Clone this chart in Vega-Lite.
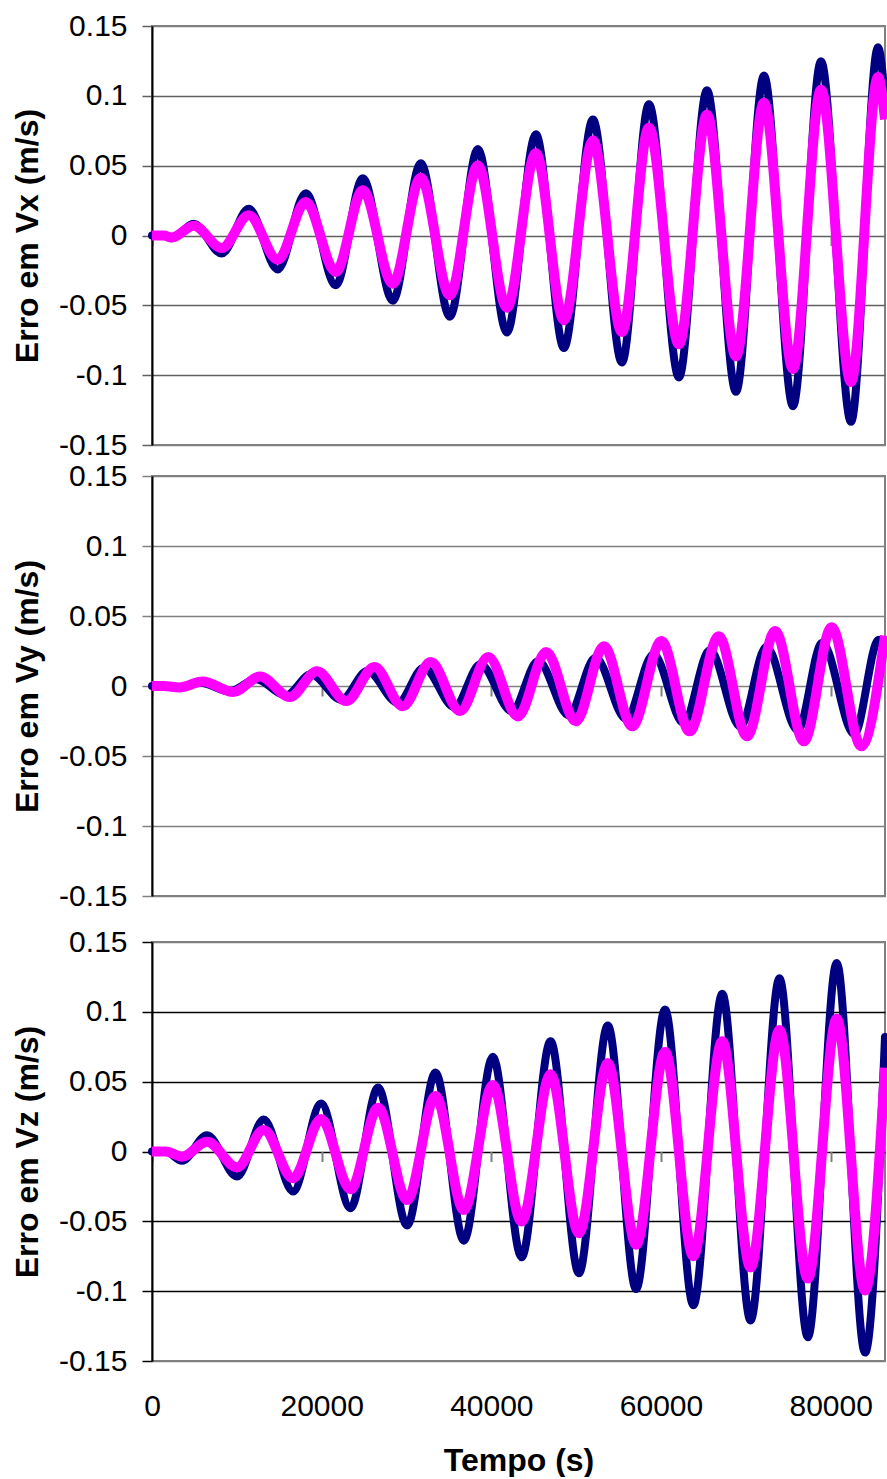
{
  "$schema": "https://vega.github.io/schema/vega-lite/v6.json",
  "padding": {"left": 10, "top": 10, "right": 0, "bottom": 0},
  "background": "white",
  "config": {
    "font": "Liberation Sans",
    "view": {"stroke": "#808080", "strokeWidth": 2},
    "axis": {
      "labelFont": "Liberation Sans",
      "labelFontSize": 30,
      "labelColor": "#000000",
      "titleFont": "Liberation Sans",
      "titleFontSize": 32,
      "titleFontWeight": "bold",
      "titleColor": "#000000",
      "labelFlush": false
    }
  },
  "datasets": {
    "vx": [
      {"t": 0, "e": 0, "serie": "1"}, {"t": 1400, "e": 0, "serie": "1"}, {"t": 2335, "e": -0.002, "serie": "1"},
      {"t": 4917, "e": 0.0084, "serie": "1"}, {"t": 8219, "e": -0.0129, "serie": "1"}, {"t": 11403, "e": 0.0191, "serie": "1"},
      {"t": 14823, "e": -0.0243, "serie": "1"}, {"t": 18125, "e": 0.0303, "serie": "1"}, {"t": 21663, "e": -0.0356, "serie": "1"},
      {"t": 24847, "e": 0.041, "serie": "1"}, {"t": 28384, "e": -0.0467, "serie": "1"}, {"t": 31686, "e": 0.0518, "serie": "1"},
      {"t": 35106, "e": -0.0582, "serie": "1"}, {"t": 38408, "e": 0.062, "serie": "1"}, {"t": 41828, "e": -0.0695, "serie": "1"},
      {"t": 45248, "e": 0.0725, "serie": "1"}, {"t": 48550, "e": -0.0805, "serie": "1"}, {"t": 51970, "e": 0.083, "serie": "1"},
      {"t": 55389, "e": -0.0909, "serie": "1"}, {"t": 58573, "e": 0.094, "serie": "1"}, {"t": 62111, "e": -0.1016, "serie": "1"},
      {"t": 65413, "e": 0.104, "serie": "1"}, {"t": 68833, "e": -0.1119, "serie": "1"}, {"t": 72134, "e": 0.1145, "serie": "1"},
      {"t": 75554, "e": -0.1222, "serie": "1"}, {"t": 78856, "e": 0.1248, "serie": "1"}, {"t": 82394, "e": -0.1334, "serie": "1"},
      {"t": 85578, "e": 0.1348, "serie": "1"}, {"t": 86400, "e": 0.097, "serie": "1"},
      {"t": 0, "e": 0, "serie": "2"}, {"t": 1400, "e": 0, "serie": "2"}, {"t": 2335, "e": -0.0015, "serie": "2"},
      {"t": 4917, "e": 0.007, "serie": "2"}, {"t": 8219, "e": -0.009, "serie": "2"}, {"t": 11403, "e": 0.0145, "serie": "2"},
      {"t": 14823, "e": -0.0173, "serie": "2"}, {"t": 18125, "e": 0.024, "serie": "2"}, {"t": 21663, "e": -0.0261, "serie": "2"},
      {"t": 24847, "e": 0.0324, "serie": "2"}, {"t": 28384, "e": -0.0345, "serie": "2"}, {"t": 31686, "e": 0.0414, "serie": "2"},
      {"t": 35106, "e": -0.0428, "serie": "2"}, {"t": 38408, "e": 0.0502, "serie": "2"}, {"t": 41828, "e": -0.0517, "serie": "2"},
      {"t": 45248, "e": 0.059, "serie": "2"}, {"t": 48550, "e": -0.0607, "serie": "2"}, {"t": 51970, "e": 0.068, "serie": "2"},
      {"t": 55389, "e": -0.0691, "serie": "2"}, {"t": 58573, "e": 0.0772, "serie": "2"}, {"t": 62111, "e": -0.0779, "serie": "2"},
      {"t": 65413, "e": 0.0865, "serie": "2"}, {"t": 68833, "e": -0.0865, "serie": "2"}, {"t": 72134, "e": 0.095, "serie": "2"},
      {"t": 75554, "e": -0.0956, "serie": "2"}, {"t": 78856, "e": 0.1044, "serie": "2"}, {"t": 82394, "e": -0.1049, "serie": "2"},
      {"t": 85578, "e": 0.1135, "serie": "2"}, {"t": 86400, "e": 0.083, "serie": "2"}
    ],
    "vy": [
      {"t": 0, "e": 0, "serie": "1"}, {"t": 1400, "e": 0, "serie": "1"}, {"t": 2900, "e": -0.001, "serie": "1"},
      {"t": 5708, "e": 0.0024, "serie": "1"}, {"t": 9151, "e": -0.0038, "serie": "1"}, {"t": 12252, "e": 0.0048, "serie": "1"},
      {"t": 15802, "e": -0.0067, "serie": "1"}, {"t": 18738, "e": 0.0084, "serie": "1"}, {"t": 22347, "e": -0.0098, "serie": "1"},
      {"t": 25389, "e": 0.0107, "serie": "1"}, {"t": 28998, "e": -0.0121, "serie": "1"}, {"t": 32040, "e": 0.0131, "serie": "1"},
      {"t": 35649, "e": -0.0152, "serie": "1"}, {"t": 38703, "e": 0.0155, "serie": "1"}, {"t": 42417, "e": -0.0181, "serie": "1"},
      {"t": 45519, "e": 0.0179, "serie": "1"}, {"t": 49116, "e": -0.0209, "serie": "1"}, {"t": 52276, "e": 0.0202, "serie": "1"},
      {"t": 55884, "e": -0.0236, "serie": "1"}, {"t": 59104, "e": 0.0226, "serie": "1"}, {"t": 62653, "e": -0.0264, "serie": "1"},
      {"t": 65755, "e": 0.0257, "serie": "1"}, {"t": 69351, "e": -0.0291, "serie": "1"}, {"t": 72406, "e": 0.028, "serie": "1"},
      {"t": 76120, "e": -0.0316, "serie": "1"}, {"t": 78998, "e": 0.0309, "serie": "1"}, {"t": 82771, "e": -0.0343, "serie": "1"},
      {"t": 85660, "e": 0.033, "serie": "1"}, {"t": 86400, "e": 0.032, "serie": "1"},
      {"t": 0, "e": 0, "serie": "2"}, {"t": 1400, "e": 0, "serie": "2"}, {"t": 3219, "e": -0.001, "serie": "2"},
      {"t": 5979, "e": 0.0032, "serie": "2"}, {"t": 9587, "e": -0.0043, "serie": "2"}, {"t": 12748, "e": 0.0067, "serie": "2"},
      {"t": 16238, "e": -0.0079, "serie": "2"}, {"t": 19458, "e": 0.0105, "serie": "2"}, {"t": 22901, "e": -0.0107, "serie": "2"},
      {"t": 26226, "e": 0.0136, "serie": "2"}, {"t": 29552, "e": -0.0145, "serie": "2"}, {"t": 32866, "e": 0.0171, "serie": "2"},
      {"t": 36309, "e": -0.0179, "serie": "2"}, {"t": 39634, "e": 0.0207, "serie": "2"}, {"t": 43125, "e": -0.0217, "serie": "2"},
      {"t": 46462, "e": 0.0243, "serie": "2"}, {"t": 49953, "e": -0.0252, "serie": "2"}, {"t": 53267, "e": 0.0284, "serie": "2"},
      {"t": 56604, "e": -0.0288, "serie": "2"}, {"t": 60047, "e": 0.0321, "serie": "2"}, {"t": 63373, "e": -0.0324, "serie": "2"},
      {"t": 66804, "e": 0.0355, "serie": "2"}, {"t": 70130, "e": -0.0359, "serie": "2"}, {"t": 73455, "e": 0.0393, "serie": "2"},
      {"t": 76840, "e": -0.0395, "serie": "2"}, {"t": 80106, "e": 0.042, "serie": "2"}, {"t": 83608, "e": -0.0431, "serie": "2"},
      {"t": 86400, "e": 0.036, "serie": "2"}
    ],
    "vz": [
      {"t": 0, "e": 0, "serie": "1"}, {"t": 1630, "e": 0, "serie": "1"}, {"t": 3538, "e": -0.0067, "serie": "1"},
      {"t": 6486, "e": 0.0117, "serie": "1"}, {"t": 10024, "e": -0.0179, "serie": "1"}, {"t": 13172, "e": 0.0229, "serie": "1"},
      {"t": 16627, "e": -0.0286, "serie": "1"}, {"t": 19929, "e": 0.0344, "serie": "1"}, {"t": 23396, "e": -0.0406, "serie": "1"},
      {"t": 26651, "e": 0.0458, "serie": "1"}, {"t": 30071, "e": -0.053, "serie": "1"}, {"t": 33420, "e": 0.0566, "serie": "1"},
      {"t": 36757, "e": -0.0639, "serie": "1"}, {"t": 40177, "e": 0.0678, "serie": "1"}, {"t": 43561, "e": -0.0757, "serie": "1"},
      {"t": 46981, "e": 0.079, "serie": "1"}, {"t": 50318, "e": -0.0871, "serie": "1"}, {"t": 53726, "e": 0.0903, "serie": "1"},
      {"t": 57064, "e": -0.0985, "serie": "1"}, {"t": 60472, "e": 0.1016, "serie": "1"}, {"t": 63809, "e": -0.11, "serie": "1"},
      {"t": 67217, "e": 0.113, "serie": "1"}, {"t": 70554, "e": -0.121, "serie": "1"}, {"t": 73962, "e": 0.124, "serie": "1"},
      {"t": 77300, "e": -0.133, "serie": "1"}, {"t": 80708, "e": 0.135, "serie": "1"}, {"t": 84045, "e": -0.144, "serie": "1"},
      {"t": 86400, "e": 0.082, "serie": "1"},
      {"t": 0, "e": 0, "serie": "2"}, {"t": 1630, "e": 0, "serie": "2"}, {"t": 3538, "e": -0.0037, "serie": "2"},
      {"t": 6486, "e": 0.007, "serie": "2"}, {"t": 10024, "e": -0.0113, "serie": "2"}, {"t": 13172, "e": 0.0154, "serie": "2"},
      {"t": 16627, "e": -0.0192, "serie": "2"}, {"t": 19929, "e": 0.0233, "serie": "2"}, {"t": 23396, "e": -0.0271, "serie": "2"},
      {"t": 26651, "e": 0.0314, "serie": "2"}, {"t": 30071, "e": -0.0347, "serie": "2"}, {"t": 33420, "e": 0.0397, "serie": "2"},
      {"t": 36757, "e": -0.0419, "serie": "2"}, {"t": 40177, "e": 0.0476, "serie": "2"}, {"t": 43561, "e": -0.0502, "serie": "2"},
      {"t": 46981, "e": 0.0553, "serie": "2"}, {"t": 50318, "e": -0.0586, "serie": "2"}, {"t": 53726, "e": 0.0633, "serie": "2"},
      {"t": 57064, "e": -0.0668, "serie": "2"}, {"t": 60472, "e": 0.0713, "serie": "2"}, {"t": 63809, "e": -0.075, "serie": "2"},
      {"t": 67217, "e": 0.079, "serie": "2"}, {"t": 70554, "e": -0.083, "serie": "2"}, {"t": 73962, "e": 0.087, "serie": "2"},
      {"t": 77300, "e": -0.091, "serie": "2"}, {"t": 80708, "e": 0.095, "serie": "2"}, {"t": 84045, "e": -0.0995, "serie": "2"},
      {"t": 86400, "e": 0.06, "serie": "2"}
    ]
  },
  "vconcat": [
    {
      "spacing": 31,
      "bounds": "flush",
      "vconcat": [
        {
          "width": 733,
          "height": 419,
          "data": {"name": "vx"},
          "encoding": {
            "x": {
              "field": "t", "type": "quantitative",
              "scale": {"domain": [0, 86400], "nice": false, "zero": false},
              "axis": {"orient": "bottom", "offset": -209.5, "values": [0, 20000, 40000, 60000, 80000], "labels": false, "domain": false, "ticks": true, "tickSize": 10, "tickWidth": 2, "tickColor": "#808080", "grid": false, "title": null}
            },
            "y": {
              "field": "e", "type": "quantitative",
              "scale": {"domain": [-0.15, 0.15], "nice": false, "zero": false},
              "axis": {
                "title": "Erro em Vx (m/s)",
                "values": [-0.15, -0.1, -0.05, 0, 0.05, 0.1, 0.15],
                "labelExpr": "toString(datum.value)",
                "grid": true,
                "gridColor": {"condition": {"test": "abs(datum.value) > 0.14", "value": "#808080"}, "value": "#606060"},
                "gridWidth": 1.5,
                "tickColor": "#606060", "tickWidth": 1.5, "tickSize": 10,
                "domainColor": "#000000", "domainWidth": 2,
                "labelPadding": 15, "titlePadding": 14
              }
            }
          },
          "layer": [
            {
              "transform": [{"filter": "datum.serie == '1'"}],
              "mark": {"type": "line", "color": "#000080", "strokeWidth": 8, "interpolate": "monotone", "strokeJoin": "round", "strokeCap": "round"}
            },
            {
              "transform": [{"filter": "datum.serie == '2'"}],
              "mark": {"type": "line", "color": "#FF00FF", "strokeWidth": 10, "interpolate": "monotone", "strokeJoin": "round", "strokeCap": "butt"}
            }
          ]
        },
        {
          "width": 733,
          "height": 420,
          "data": {"name": "vy"},
          "encoding": {
            "x": {
              "field": "t", "type": "quantitative",
              "scale": {"domain": [0, 86400], "nice": false, "zero": false},
              "axis": {"orient": "bottom", "offset": -210, "values": [0, 20000, 40000, 60000, 80000], "labels": false, "domain": false, "ticks": true, "tickSize": 10, "tickWidth": 2, "tickColor": "#808080", "grid": false, "title": null}
            },
            "y": {
              "field": "e", "type": "quantitative",
              "scale": {"domain": [-0.15, 0.15], "nice": false, "zero": false},
              "axis": {
                "title": "Erro em Vy (m/s)",
                "values": [-0.15, -0.1, -0.05, 0, 0.05, 0.1, 0.15],
                "labelExpr": "toString(datum.value)",
                "grid": true,
                "gridColor": "#808080",
                "gridWidth": 1.5,
                "tickColor": "#808080", "tickWidth": 1.5, "tickSize": 10,
                "domainColor": "#000000", "domainWidth": 2,
                "labelPadding": 15, "titlePadding": 14
              }
            }
          },
          "layer": [
            {
              "transform": [{"filter": "datum.serie == '1'"}],
              "mark": {"type": "line", "color": "#000080", "strokeWidth": 8, "interpolate": "monotone", "strokeJoin": "round", "strokeCap": "round"}
            },
            {
              "transform": [{"filter": "datum.serie == '2'"}],
              "mark": {"type": "line", "color": "#FF00FF", "strokeWidth": 10, "interpolate": "monotone", "strokeJoin": "round", "strokeCap": "butt"}
            }
          ]
        }
      ]
    },
    {
      "width": 733,
      "height": 419,
      "data": {"name": "vz"},
      "resolve": {"axis": {"x": "independent"}},
      "encoding": {
        "x": {
          "field": "t", "type": "quantitative",
          "scale": {"domain": [0, 86400], "nice": false, "zero": false},
          "axis": {"orient": "bottom", "offset": -209.5, "values": [0, 20000, 40000, 60000, 80000], "labels": false, "domain": false, "ticks": true, "tickSize": 10, "tickWidth": 2, "tickColor": "#808080", "grid": false, "title": null}
        },
        "y": {
          "field": "e", "type": "quantitative",
          "scale": {"domain": [-0.15, 0.15], "nice": false, "zero": false},
          "axis": {
            "title": "Erro em Vz (m/s)",
            "values": [-0.15, -0.1, -0.05, 0, 0.05, 0.1, 0.15],
            "labelExpr": "toString(datum.value)",
            "grid": true,
            "gridColor": {"condition": {"test": "abs(datum.value) > 0.14", "value": "#808080"}, "value": "#000000"},
            "gridWidth": 1.5,
            "tickColor": "#000000", "tickWidth": 1.5, "tickSize": 10,
            "domainColor": "#000000", "domainWidth": 2,
            "labelPadding": 15, "titlePadding": 14
          }
        }
      },
      "layer": [
        {
          "transform": [{"filter": "datum.serie == '1'"}],
          "mark": {"type": "line", "color": "#000080", "strokeWidth": 8, "interpolate": "monotone", "strokeJoin": "round", "strokeCap": "round"}
        },
        {
          "transform": [{"filter": "datum.serie == '2'"}],
          "mark": {"type": "line", "color": "#FF00FF", "strokeWidth": 10, "interpolate": "monotone", "strokeJoin": "round", "strokeCap": "butt"},
          "encoding": {
            "x": {
              "field": "t", "type": "quantitative",
              "scale": {"domain": [0, 86400], "nice": false, "zero": false},
              "axis": {"orient": "bottom", "values": [0, 20000, 40000, 60000, 80000], "format": "d", "labelFlush": false, "domain": false, "ticks": false, "tickSize": 0, "labelPadding": 30, "grid": false, "title": "Tempo (s)", "titlePadding": 24}
            }
          }
        }
      ]
    }
  ],
  "spacing": 14
}
